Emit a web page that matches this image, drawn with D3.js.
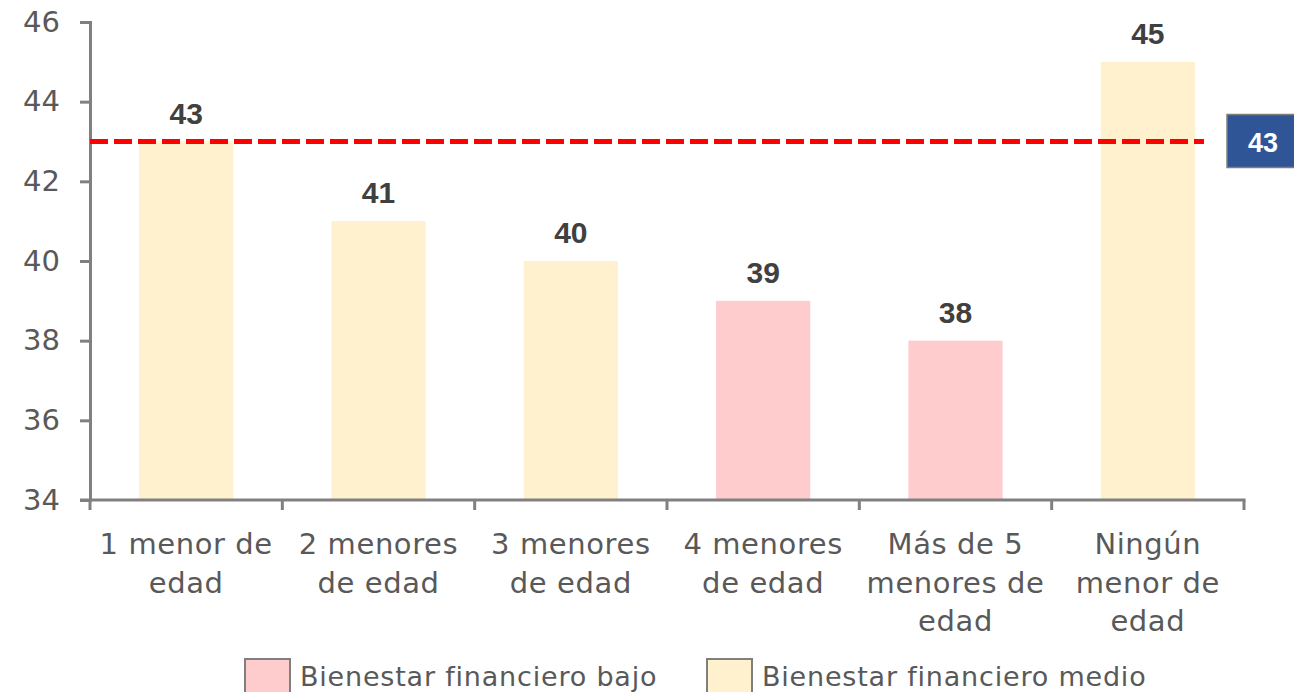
<!DOCTYPE html>
<html>
<head>
<meta charset="utf-8">
<script src="https://cdn.jsdelivr.net/npm/d3@7"></script>
<style>
  body { margin: 0; background: #fff; }
  .tick-label { font-family: "DejaVu Sans", sans-serif; fill: #595959; }
  .value-label { font-family: "Liberation Sans", Arial, sans-serif; font-weight: bold; fill: #404040; }
</style>
</head>
<body>
<div id="chart"></div>
<script>
// chart values
const categories = ["1 menor de edad", "2 menores de edad", "3 menores de edad",
  "4 menores de edad", "Más de 5 menores de edad", "Ningún menor de edad"];
const categoryLines = [
  ["1 menor de", "edad"],
  ["2 menores", "de edad"],
  ["3 menores", "de edad"],
  ["4 menores", "de edad"],
  ["Más de 5", "menores de", "edad"],
  ["Ningún", "menor de", "edad"]
];
const values = [43, 41, 40, 39, 38, 45];
const groups = ["medio", "medio", "medio", "bajo", "bajo", "medio"];
const average = 43;
const yTicks = [34, 36, 38, 40, 42, 44, 46];
const legendKeys = ["bajo", "medio"];
const legendLabels = ["Bienestar financiero bajo", "Bienestar financiero medio"];

const width = 1294, height = 692;
const margin = { top: 22, right: 50, bottom: 192, left: 90 };

const svg = d3.select("#chart").append("svg")
  .attr("width", width)
  .attr("height", height);

const colour = d3.scaleOrdinal()
  .domain(legendKeys)
  .range(["#FFCCCE", "#FFF1CE"]);

const x = d3.scaleBand()
  .domain(categories)
  .range([margin.left, width - margin.right])
  .paddingInner(0.51)
  .paddingOuter(0.255);

const y = d3.scaleLinear()
  .domain([34, 46])
  .range([height - margin.bottom, margin.top]);

// bars
svg.selectAll(".bar")
  .data(categories)
  .join("rect")
  .attr("class", "bar")
  .attr("x", d => x(d))
  .attr("y", (d, i) => y(values[i]))
  .attr("width", x.bandwidth())
  .attr("height", (d, i) => y(34) - y(values[i]))
  .attr("fill", (d, i) => colour(groups[i]));

// value labels
svg.selectAll(".value-label")
  .data(categories)
  .join("text")
  .attr("class", "value-label")
  .attr("x", d => x(d) + x.bandwidth() / 2)
  .attr("y", (d, i) => y(values[i]) - 18)
  .attr("text-anchor", "middle")
  .style("font-size", "30px")
  .text((d, i) => values[i]);

// y axis
const yAxis = svg.append("g")
  .attr("transform", `translate(${margin.left},0)`)
  .call(d3.axisLeft(y).tickValues(yTicks).tickSize(10).tickPadding(20));
yAxis.select(".domain").attr("stroke", "#808080").attr("stroke-width", 3);
yAxis.selectAll(".tick line").attr("stroke", "#808080").attr("stroke-width", 3);
yAxis.selectAll(".tick text")
  .attr("class", "tick-label")
  .style("font-size", "29px");

// x axis with ticks on band boundaries
const x0 = margin.left, x1 = width - margin.right, yBase = y(34);
svg.append("line")
  .attr("x1", x0 - 10).attr("x2", x1 + 1.5)
  .attr("y1", yBase).attr("y2", yBase)
  .attr("stroke", "#808080").attr("stroke-width", 3);
const bounds = categories.map(c => x(c) + x.bandwidth() / 2 - x.step() / 2).concat([x1]);
svg.selectAll(".xtick")
  .data(bounds)
  .join("line")
  .attr("class", "xtick")
  .attr("x1", d => d).attr("x2", d => d)
  .attr("y1", yBase).attr("y2", yBase + 10)
  .attr("stroke", "#808080").attr("stroke-width", 3);

const xLabels = svg.selectAll(".xlabel")
  .data(categories)
  .join("text")
  .attr("class", "tick-label")
  .attr("text-anchor", "middle")
  .attr("transform", d => `translate(${x(d) + x.bandwidth() / 2},${yBase + 54})`)
  .style("font-size", "29px")
  .style("letter-spacing", "0.6px");
xLabels.selectAll("tspan")
  .data((d, i) => categoryLines[i])
  .join("tspan")
  .attr("x", 0)
  .attr("dy", (d, i) => i === 0 ? 0 : 38.5)
  .text(d => d);

// average line
svg.append("line")
  .attr("x1", margin.left).attr("x2", 1204)
  .attr("y1", y(average)).attr("y2", y(average))
  .attr("stroke", "#FF0000")
  .attr("stroke-width", 5)
  .attr("stroke-dasharray", "18,6");

const avgBox = svg.append("g").attr("transform", `translate(1227,${y(average)})`);
avgBox.append("rect")
  .attr("x", 0).attr("y", -27)
  .attr("width", 80).attr("height", 53)
  .attr("fill", "#2F5597")
  .attr("stroke", "#7F7F7F").attr("stroke-width", 1.5);
avgBox.append("text")
  .attr("x", 36).attr("y", 10)
  .attr("text-anchor", "middle")
  .style("font-family", "Liberation Sans, Arial, sans-serif")
  .style("font-weight", "bold")
  .style("font-size", "27px")
  .attr("fill", "#fff")
  .text(average);

// legend
const legendX = [245, 707];
const legend = svg.selectAll(".legend-item")
  .data(legendKeys)
  .join("g")
  .attr("class", "legend-item")
  .attr("transform", (d, i) => `translate(${legendX[i]},659)`);
legend.append("rect")
  .attr("width", 45).attr("height", 34)
  .attr("fill", d => colour(d))
  .attr("stroke", "#7F7F7F").attr("stroke-width", 2);
legend.append("text")
  .attr("class", "tick-label")
  .attr("x", 55).attr("y", 27)
  .style("font-size", "27px")
  .style("letter-spacing", "0.8px")
  .text((d, i) => legendLabels[i]);
</script>
</body>
</html>
